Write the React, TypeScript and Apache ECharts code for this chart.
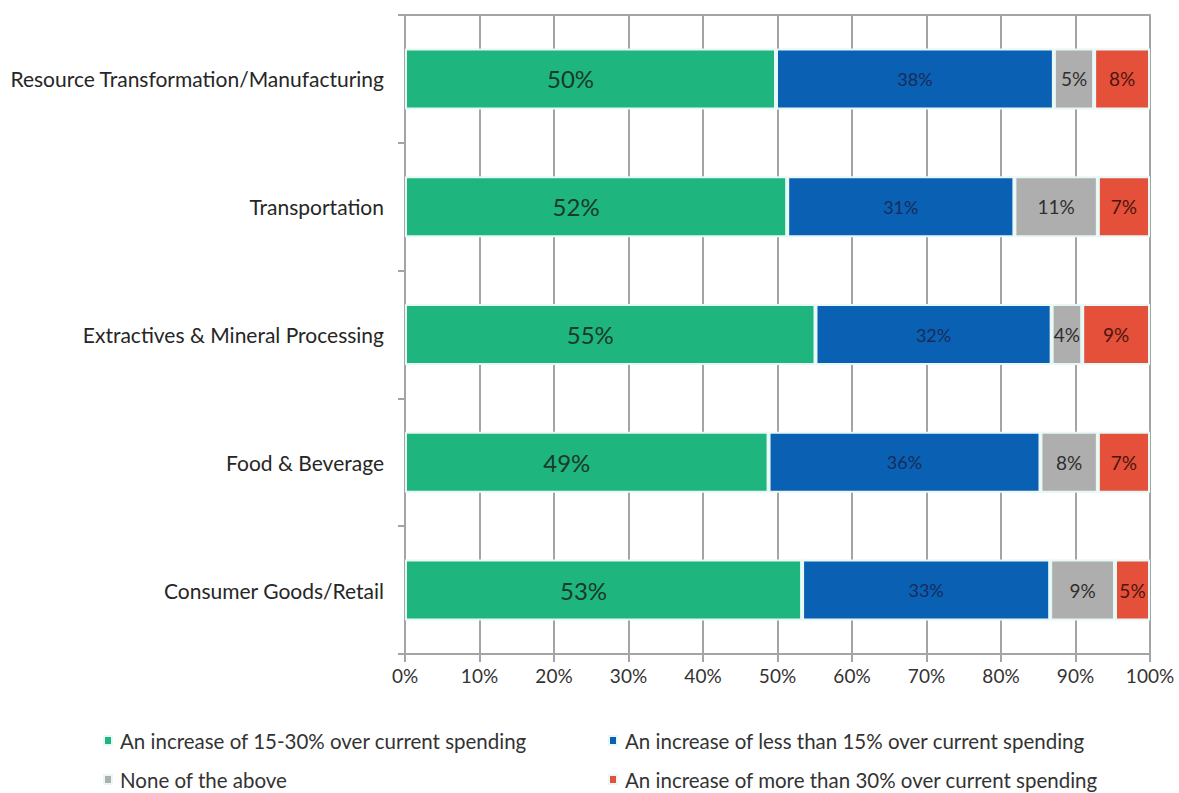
import React, { useEffect, useRef } from "react";
import * as echarts from "echarts";

const categories = [
  "Resource Transformation/Manufacturing",
  "Transportation",
  "Extractives & Mineral Processing",
  "Food & Beverage",
  "Consumer Goods/Retail",
];

const seriesNames = [
  "An increase of 15-30% over current spending",
  "An increase of less than 15% over current spending",
  "None of the above",
  "An increase of more than 30% over current spending",
];

// bar lengths (percent of respondents)
const increase15to30 = [49.8, 51.3, 55.1, 48.8, 53.3];
const increaseUnder15 = [37.3, 30.5, 31.7, 36.5, 33.3];
const noneOfAbove = [5.4, 11.2, 4.1, 7.7, 8.7];
const increaseOver30 = [7.5, 7.0, 9.1, 7.0, 4.7];

// data labels as printed on the chart
const label15to30 = [50, 52, 55, 49, 53];
const labelUnder15 = [38, 31, 32, 36, 33];
const labelNone = [5, 11, 4, 8, 9];
const labelOver30 = [8, 7, 9, 7, 5];

const xTicks = [0, 10, 20, 30, 40, 50, 60, 70, 80, 90, 100];

const FONT = "Lato";

export default function App() {
  const ref = useRef<HTMLDivElement>(null);

  useEffect(() => {
    if (!ref.current) return;
    const chart = echarts.init(ref.current, undefined, { renderer: "svg" });

    const values = [increase15to30, increaseUnder15, noneOfAbove, increaseOver30];
    const labels = [label15to30, labelUnder15, labelNone, labelOver30];
    const colors = ["#1fb57f", "#0a60b2", "#aeaeae", "#e5503b"];
    const labelColors = ["#183a2b", "#172c5a", "#2e2e2e", "#4d150d"];
    const labelSizes = [24, 18, 19, 19];
    const labelOffsets = [[-20, 0], [0, 0], [0, 0], [0, 0]];

    const series = seriesNames.map((name, i) => ({
      name,
      type: "bar",
      stack: "total",
      barWidth: 61,
      data: values[i],
      itemStyle: {
        color: colors[i],
        borderColor: "#e8f8f6",
        borderWidth: 2,
      },
      label: {
        show: true,
        position: "inside",
        offset: labelOffsets[i],
        fontFamily: FONT,
        fontSize: labelSizes[i],
        color: labelColors[i],
        formatter: (p: any) => labels[i][p.dataIndex] + "%",
      },
    }));

    const legendPos = [
      { left: 103, top: 730 },
      { left: 608, top: 730 },
      { left: 103, top: 769 },
      { left: 608, top: 769 },
    ];

    chart.setOption({
      animation: false,
      backgroundColor: "#ffffff",
      textStyle: { fontFamily: FONT },
      grid: { left: 405, right: 29, top: 15, bottom: 139, containLabel: false },
      legend: seriesNames.map((name, i) => ({
        data: [name],
        left: legendPos[i].left,
        top: legendPos[i].top,
        padding: 0,
        icon: "rect",
        itemWidth: 8,
        itemHeight: 9,
        itemGap: 0,
        selectedMode: false,
        textStyle: { fontFamily: FONT, fontSize: 20.5, color: "#333333", padding: [0, 0, 0, 3] },
      })),
      xAxis: [
        {
          type: "value",
          min: 0,
          max: 100,
          interval: 10,
          position: "bottom",
          axisLine: { show: true, lineStyle: { color: "#a4a4a4", width: 2 } },
          axisTick: { show: true, length: 8, lineStyle: { color: "#a4a4a4", width: 2 } },
          axisLabel: {
            fontFamily: FONT,
            fontSize: 19,
            color: "#333333",
            margin: 12,
            formatter: (v: number) => (xTicks.includes(v) ? v + "%" : ""),
          },
          splitLine: { show: true, lineStyle: { color: "#a4a4a4", width: 2 } },
        },
        {
          type: "value",
          min: 0,
          max: 100,
          interval: 10,
          position: "top",
          axisLine: { show: true, lineStyle: { color: "#a4a4a4", width: 2 } },
          axisTick: { show: false },
          axisLabel: { show: false },
          splitLine: { show: false },
        },
      ],
      yAxis: {
        type: "category",
        data: categories,
        inverse: true,
        axisLine: { show: true, lineStyle: { color: "#a4a4a4", width: 2 } },
        axisTick: { show: true, length: 7, lineStyle: { color: "#a4a4a4", width: 2 } },
        axisLabel: {
          fontFamily: FONT,
          fontSize: 21,
          color: "#262626",
          margin: 21,
        },
      },
      series,
    });

    return () => chart.dispose();
  }, []);

  return <div ref={ref} style={{ width: 1179, height: 793, position: "absolute", left: 0, top: 0 }} />;
}
